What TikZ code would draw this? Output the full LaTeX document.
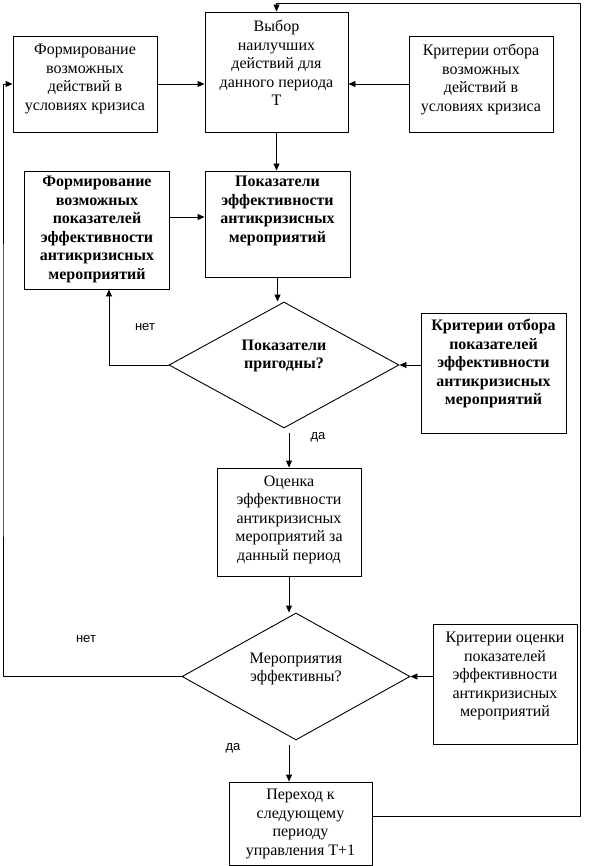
\documentclass[tikz,border=0pt]{standalone}
\usepackage{fontspec}
\setmainfont{Liberation Serif}
\newfontfamily\labfont{Liberation Sans}
\usetikzlibrary{shapes.geometric,arrows.meta}
\tikzset{
  box/.style={draw, rectangle, inner sep=0pt},
  dia/.style={draw, diamond, inner sep=0pt, aspect=1.8},
  txt/.style={align=center, inner sep=0pt, anchor=north, font=\fontsize{16}{18.5}\selectfont},
  btxt/.style={align=center, inner sep=0pt, anchor=north, font=\fontsize{16}{18.5}\selectfont\bfseries},
  dtxt/.style={align=center, inner sep=0pt, font=\fontsize{16}{18}\selectfont},
  lab/.style={inner sep=0pt, font=\labfont\fontsize{13}{15}\selectfont},
  arr/.style={-{Triangle[length=7pt,width=6pt]}},
  every path/.style={line width=0.9pt}
}
\begin{document}
\begin{tikzpicture}[x=1pt,y=-1pt]
\useasboundingbox (0,0) rectangle (590,866);
% boxes
\node[box, minimum width=144pt, minimum height=96pt] (A) at (85,84) {};
\node[box, minimum width=143pt, minimum height=120pt] (B) at (276.5,72) {};
\node[box, minimum width=144pt, minimum height=96pt] (C) at (481,84) {};
\node[box, minimum width=144.5pt, minimum height=118pt] (E) at (97,230) {};
\node[box, minimum width=145pt, minimum height=106pt] (D) at (277.5,224) {};
\node[dia, minimum width=230pt, minimum height=126pt] (Q1) at (284,365) {};
\node[box, minimum width=145pt, minimum height=120pt] (F) at (493.5,373) {};
\node[box, minimum width=144pt, minimum height=108pt] (G) at (289,522) {};
\node[dia, minimum width=228pt, minimum height=127pt] (Q2) at (296,676.5) {};
\node[box, minimum width=144pt, minimum height=120pt] (H) at (505,684) {};
\node[box, minimum width=143pt, minimum height=83pt] (I) at (300.5,823.5) {};
% texts
\node[txt] (At) at ([yshift=-8.5pt]A.north) {Формирование\\возможных\\действий в\\условиях кризиса};
\node[txt] (Bt) at ([yshift=-8.5pt]B.north) {Выбор\\наилучших\\действий для\\данного периода\\Т};
\node[txt] (Ct) at ([yshift=-8.5pt]C.north) {Критерии отбора\\возможных\\действий в\\условиях кризиса};
\node[btxt] (Et) at ([yshift=-5.5pt]E.north) {Формирование\\возможных\\показателей\\эффективности\\антикризисных\\мероприятий};
\node[btxt] (Dt) at ([yshift=-5.5pt]D.north) {Показатели\\эффективности\\антикризисных\\мероприятий};
\node[dtxt, font=\fontsize{16}{18}\selectfont\bfseries] (Q1t) at ([yshift=9pt]Q1.center) {Показатели\\пригодны?};
\node[btxt] (Ft) at ([yshift=-6.5pt]F.north) {Критерии отбора\\показателей\\эффективности\\антикризисных\\мероприятий};
\node[txt] (Gt) at ([yshift=-7.5pt]G.north) {Оценка\\эффективности\\антикризисных\\мероприятий за\\данный период};
\node[dtxt] (Q2t) at ([yshift=7.5pt]Q2.center) {Мероприятия\\эффективны?};
\node[txt] (Ht) at ([yshift=-8.5pt]H.north) {Критерии оценки\\показателей\\эффективности\\антикризисных\\мероприятий};
\node[txt] (It) at ([yshift=-7.5pt]I.north) {Переход к\\следующему\\периоду\\управления Т+1};
% labels
\node[lab] (n1) at (145,327) {нет};
\node[lab] (y1) at (318,437) {да};
\node[lab] (n2) at (86,639) {нет};
\node[lab] (y2) at (233,748) {да};
% helper coordinates
\coordinate (L) at (3,400);
\coordinate (Rt) at (580,3);
\coordinate (q2s) at ([xshift=-7pt,yshift=-5pt]Q2.south);
% connectors
\draw[arr] (A.east) -- (A.east -| B.west);
\draw[arr] (C.west) -- (C.west -| B.east);
\draw[arr] (B.south) -- (B.south |- D.north);
\draw[arr] ([yshift=13pt]E.east) -- ([yshift=13pt]E.east -| D.west);
\draw[arr] (D.south) -- (D.south |- Q1.north);
\draw[arr] (Q1.west) -| ([xshift=12pt]E.south);
\draw[arr] (F.west |- Q1.east) -- (Q1.east);
\draw[arr] ([yshift=-5pt]Q1.south -| G.north) -- (G.north);
\draw[arr] (G.south) -- (G.south |- Q2.north);
\draw[arr] (H.west |- Q2.east) -- (Q2.east);
\draw[arr] (q2s) -- (q2s |- I.north);
\draw[arr] (Q2.west) -| (L) |- (A.west);
\draw[arr] ([yshift=7pt]I.east) -| (Rt) -| (B.north);
\end{tikzpicture}
\end{document}
